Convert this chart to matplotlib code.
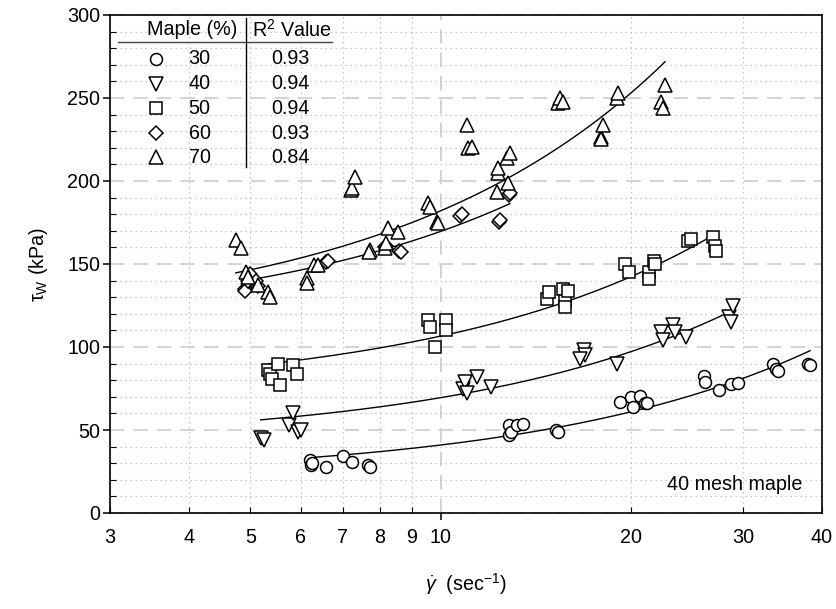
import numpy as np
import matplotlib
matplotlib.use("Agg")
import matplotlib.pyplot as plt
from matplotlib.ticker import FixedLocator, FixedFormatter

plt.rcParams['font.family'] = ['Liberation Sans', 'DejaVu Sans']
plt.rcParams['mathtext.fontset'] = 'custom'
plt.rcParams['mathtext.rm'] = 'Liberation Sans'
plt.rcParams['mathtext.it'] = 'Liberation Sans:italic'
plt.rcParams['mathtext.bf'] = 'Liberation Sans:bold'

# ---------------- data ----------------
x30 = [6.21, 6.23, 6.25, 6.59, 7.01, 7.23, 7.67, 7.72, 12.8, 12.8, 12.9, 13.2, 13.5,
       15.2, 15.3, 19.2, 20.0, 20.1, 20.6, 21.0, 21.2, 26.0, 26.1, 27.5, 28.7, 29.5,
       33.5, 33.8, 34.1, 38.0, 38.3]
y30 = [31.9, 28.9, 30.0, 27.5, 34.3, 30.9, 28.9, 27.5, 53, 47, 49, 53, 53.5,
       50, 49, 67, 70, 64, 70.5, 66.4, 66.3, 82.5, 79, 74, 78, 78.5,
       90, 87, 85.5, 90, 89]

x40 = [5.19, 5.25, 5.75, 5.83, 5.95, 6.0, 10.85, 10.9, 11.0, 11.4, 12.0,
       16.8, 16.9, 16.6, 19.0, 22.3, 22.4, 23.3, 23.4, 24.4, 28.5, 28.7, 28.9]
y40 = [45, 44, 53, 60, 49, 50, 75, 79, 72, 82, 76,
       98, 95, 93, 90, 109, 104, 113, 109, 106, 118, 115, 125]

x50 = [5.34, 5.37, 5.40, 5.53, 5.57, 5.83, 5.93, 9.55, 9.6, 9.78, 10.2, 10.2,
       14.7, 14.8, 15.6, 15.7, 15.7, 15.9, 19.5, 19.8, 21.3, 21.3, 21.7, 21.8,
       24.6, 24.8, 26.9, 27.1, 27.2]
y50 = [86, 84, 81, 90, 77, 89, 84, 116, 112, 100, 116, 110,
       129, 133, 135, 128, 124, 134, 150, 145, 145, 141, 152, 150,
       164, 165, 166, 161, 158]

x60 = [4.9, 4.9, 4.95, 5.0, 5.14, 5.1, 6.59, 6.63, 8.17, 8.2, 8.6, 8.65,
       10.7, 10.8, 12.35, 12.4, 12.8, 12.85]
y60 = [135, 134, 140, 144, 137, 140, 151, 152, 160, 161, 158, 157,
       179, 180, 175.5, 176.5, 191.5, 192.5]

x70 = [4.74, 4.84, 4.92, 4.95, 5.14, 5.34, 5.37, 6.14, 6.14, 6.29, 6.4,
       7.2, 7.23, 7.32, 7.72, 7.7, 8.17, 8.2, 8.25, 8.55, 9.54, 9.6, 9.84, 9.9,
       11.0, 11.05, 11.2, 12.25, 12.3, 12.3, 12.7, 12.75, 12.85,
       15.3, 15.4, 15.6, 17.9, 18.0, 17.9, 18.95, 19.05, 22.3, 22.4, 22.6]
y70 = [164.5, 159.5, 145.4, 142.4, 137.3, 133.3, 130.3, 141.4, 138.4, 149.4, 149.4,
       194.6, 195.6, 202.6, 158.4, 157, 159.5, 162.5, 171.5, 169.5, 186.6, 184.5, 175.5, 174.5,
       233.7, 219.7, 220.3, 193.6, 204.6, 207.6, 213.7, 198.6, 216.7,
       246.8, 249.8, 247.8, 226.7, 233.7, 225, 249.8, 252.8, 247.8, 243.8, 257.8]

maple = ['30', '40', '50', '60', '70']
r2 = ['0.93', '0.94', '0.94', '0.93', '0.84']
# linear regression fits (tau = intercept + slope * gamma)
fit_intercept = [20.9, 41.7, 70.7, 111.3, 110.9]
fit_slope = [2.007, 2.78, 3.59, 5.84, 7.12]

xticks_minor = [3, 4, 5, 6, 7, 8, 9, 20, 30, 40]
xticks_major = [10]

series_x = [x30, x40, x50, x60, x70]
series_y = [y30, y40, y50, y60, y70]
markers = ['o', 'v', 's', 'D', '^']
msizes = [8.6, 9.4, 8.0, 6.8, 9.6]

FS = 14.2

# ---------------- figure ----------------
fig = plt.figure(figsize=(8.36, 6.09), dpi=100)
ax = fig.add_axes([110/836, 1 - 513/609, 712/836, 498/609])

ax.set_xscale('log')
ax.set_xlim(3, 40)
ax.set_ylim(0, 300)

ax.xaxis.set_major_locator(FixedLocator(xticks_major))
ax.xaxis.set_major_formatter(FixedFormatter([str(v) for v in xticks_major]))
ax.xaxis.set_minor_locator(FixedLocator(xticks_minor))
ax.xaxis.set_minor_formatter(FixedFormatter([str(v) for v in xticks_minor]))
ax.yaxis.set_major_locator(FixedLocator(np.arange(0, 301, 50)))
ax.yaxis.set_minor_locator(FixedLocator(np.arange(0, 301, 10)))

ax.tick_params(which='major', direction='out', length=5, width=1.1, labelsize=FS)
ax.tick_params(which='minor', direction='in', length=4, width=0.8, labelsize=FS)
ax.tick_params(axis='x', which='major', pad=6)
ax.tick_params(axis='x', which='minor', pad=11)
ax.tick_params(axis='y', which='major', pad=2)
ax.tick_params(axis='y', which='minor', left=True, labelleft=False)

ax.grid(which='major', color='#d0d0d0', linestyle=(0, (8, 5)), linewidth=1.3, zorder=0)
ax.grid(which='minor', color='#b8b8b8', linestyle=(0, (1, 3)), linewidth=0.9, zorder=0)
ax.set_axisbelow(True)

for sp in ax.spines.values():
    sp.set_linewidth(1.2)

for xs, ys, b0, b1, mk, ms in zip(series_x, series_y, fit_intercept, fit_slope, markers, msizes):
    xs = np.asarray(xs)
    xx = np.linspace(xs.min(), xs.max(), 200)
    ax.plot(xx, b0 + b1 * xx, color='black', linewidth=1.0, zorder=2)
    ax.plot(xs, ys, linestyle='none', marker=mk, markersize=ms, markerfacecolor='white',
            markeredgecolor='black', markeredgewidth=1.1, zorder=3)

ax.set_xlabel(r'$\dot{\gamma}$  (sec$^{-1}$)', fontsize=FS, labelpad=17)
ax.set_ylabel(r'τ$_{\mathrm{W}}$ (kPa)', fontsize=FS, labelpad=12)

# legend table
trans = ax.transAxes
ax.text(0.115, 0.970, 'Maple (%)', transform=trans, ha='center', va='center', fontsize=FS)
ax.text(0.256, 0.970, r'R$^2$ Value', transform=trans, ha='center', va='center', fontsize=FS)
ax.plot([0.011, 0.312], [0.946, 0.946], transform=trans, color='#444444', linewidth=1.0, clip_on=False)
ax.plot([0.191, 0.191], [0.994, 0.695], transform=trans, color='black', linewidth=1.0, clip_on=False)
row_y = [0.912, 0.862, 0.813, 0.763, 0.714]
for ry, mk, ms, lab, rv in zip(row_y, markers, msizes, maple, r2):
    ax.plot([0.065], [ry], transform=trans, linestyle='none', marker=mk, markersize=ms,
            markerfacecolor='white', markeredgecolor='black', markeredgewidth=1.1, clip_on=False)
    ax.text(0.126, ry, lab, transform=trans, ha='center', va='center', fontsize=FS)
    ax.text(0.253, ry, rv, transform=trans, ha='center', va='center', fontsize=FS)

ax.text(0.973, 0.058, '40 mesh maple', transform=trans, ha='right', va='center', fontsize=FS)

fig.savefig('out.png', dpi=100)
